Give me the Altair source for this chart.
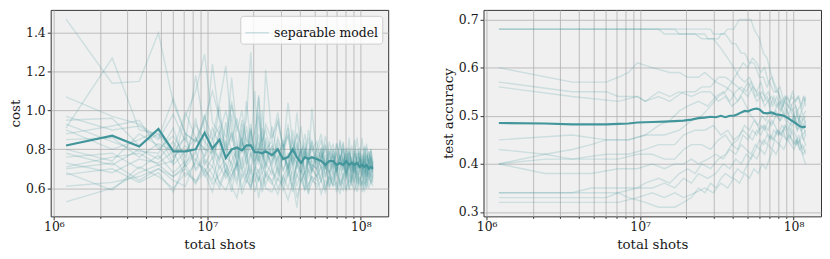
import altair as alt
import pandas as pd

SHOTS_PER_STEP = 1_200_000
TEAL = "#42969b"
FONT = "DejaVu Serif"

# ---------------- axis ticks ----------------
x_ticks = [1e6, 2e6, 3e6, 4e6, 5e6, 6e6, 7e6, 8e6, 9e6,
           1e7, 2e7, 3e7, 4e7, 5e7, 6e7, 7e7, 8e7, 9e7, 1e8]
x_major = [1e6, 1e7, 1e8]
x_major_labels = ["10⁶", "10⁷", "10⁸"]
cost_ticks = [0.6, 0.8, 1.0, 1.2, 1.4]
acc_ticks = [0.3, 0.4, 0.5, 0.6, 0.7]

# ---------------- cost panel (values x100) ----------------
cost_steps = [1, 2, 3, 4, 5, 6, 7, 8, 9, 10,
              11, 12, 13, 14, 15, 16, 17, 18, 19, 20,
              22, 24, 26, 28, 30, 32, 34, 36, 38, 40,
              43, 46, 49, 52, 55, 58, 61, 64, 67, 70,
              73, 76, 79, 82, 85, 88, 91, 94, 97, 100]

cost_runs_x100 = [
    [147,114,115,140,104,88,84,97,86,104, 123,90,80,95,85,82,78,88,76,80, 84,72,79,70,76,73,80,68,75,71, 77,70,74,68,80,72,69,75,66,78, 71,73,67,76,70,74,68,79,72,71],
    [91,127,90,88,80,99,86,80,78,85, 75,98,72,83,77,90,74,81,70,86, 75,82,69,78,73,84,67,76,79,72, 70,81,66,74,77,69,85,72,68,76, 63,79,71,74,66,82,70,75,69,73],
    [107,97,93,86,106,88,84,95,110,96, 86,103,92,84,96,130,88,107,82,93, 85,99,80,91,78,88,83,76,90,79, 84,74,87,77,70,83,75,80,72,86, 69,78,74,81,67,77,83,70,76,72],
    [97,90,92,85,98,84,118,90,85,92, 80,88,76,84,79,91,73,80,86,75, 82,70,77,88,72,79,74,81,68,76, 73,79,70,84,75,68,77,72,80,66, 74,70,78,73,69,81,71,65,75,73],
    [95,96,82,88,73,97,110,129,94,88, 100,84,96,78,105,82,90,99,77,121, 86,94,80,104,83,77,92,75,86,73, 80,88,72,79,69,83,76,70,74,79, 72,68,80,75,71,77,66,73,79,70],
    [93,84,79,78,91,72,85,80,124,95, 81,117,89,100,83,93,78,108,84,90, 76,96,81,87,74,99,78,83,72,101, 77,71,82,74,80,68,75,84,70,77, 73,85,69,76,72,67,78,74,80,70],
    [90,80,85,90,76,82,74,88,80,75, 84,70,79,86,72,90,77,74,83,71, 79,74,85,70,81,76,68,79,73,85, 74,80,70,77,83,72,76,69,81,74, 70,78,86,71,75,68,77,73,80,74],
    [88,92,95,80,87,76,93,84,79,102, 76,89,71,93,80,84,110,76,91,79, 73,86,78,93,70,82,76,88,74,69, 80,75,83,71,78,66,84,73,77,70, 82,68,75,79,65,74,81,70,76,67],
    [85,86,76,83,79,86,70,77,91,82, 68,80,75,86,72,78,69,84,77,73, 81,67,76,72,85,70,79,64,75,82, 71,77,65,80,73,69,77,62,74,79, 68,72,66,78,70,75,63,71,77,69],
    [80,74,88,82,72,79,86,76,85,73, 94,78,69,90,76,83,72,97,81,70, 92,75,83,66,78,88,71,80,74,68, 76,85,70,74,67,79,72,83,68,75, 64,80,71,74,86,69,77,72,66,74],
    [78,72,80,75,84,71,78,98,75,88, 79,105,83,70,92,77,82,74,100,79, 71,84,77,68,90,73,80,70,77,84, 69,75,80,67,73,78,71,76,64,81, 73,69,76,70,78,65,72,79,74,68],
    [76,78,70,77,68,74,96,72,80,70, 76,73,64,84,78,67,89,72,79,66, 74,80,69,76,64,73,81,67,75,71, 66,78,73,62,77,70,74,80,67,71, 76,63,73,69,77,71,66,75,70,72],
    [73,68,75,73,79,66,73,70,64,78, 72,66,74,69,77,63,70,76,68,73, 67,76,63,71,78,66,72,60,74,69, 75,63,71,68,74,60,70,77,65,72, 68,74,62,70,67,76,64,71,68,70],
    [71,76,78,72,74,88,69,75,71,90, 66,74,80,70,65,78,72,68,75,84, 69,64,77,71,62,73,68,80,65,72, 70,64,77,68,61,73,66,71,78,63, 69,74,65,70,73,62,71,67,74,66],
    [70,73,64,70,66,72,63,68,76,62, 70,58,74,65,71,60,69,64,72,66, 62,70,59,67,73,61,69,65,57,70, 66,72,60,68,64,71,62,67,73,59, 66,70,63,69,61,67,72,64,68,65],
    [68,59,71,66,60,68,64,70,62,67, 73,61,55,68,63,70,58,66,61,69, 63,57,66,60,70,55,64,68,58,63, 67,57,64,61,69,58,65,62,59,67, 63,70,60,66,58,64,61,68,62,66],
    [67,70,63,68,58,73,79,66,71,63, 59,67,72,57,64,61,68,55,66,60, 58,65,61,54,63,50,67,59,62,66, 60,64,58,66,61,63,57,68,60,64, 62,59,66,61,63,58,65,60,64,61],
    [61,63,66,70,64,61,75,68,58,72, 65,70,62,76,66,59,71,64,68,62, 70,60,66,72,58,67,63,69,61,66, 64,71,59,66,62,68,61,65,70,60, 67,63,58,66,62,69,60,64,67,63],
    [53,60,68,72,66,70,62,74,67,60, 69,64,73,60,67,72,63,70,58,67, 64,71,62,68,60,73,65,59,70,64, 62,67,73,60,66,70,63,59,67,72, 61,65,69,62,68,60,66,71,63,67],
]

cost_mean_x100 = [82, 87, 81.5, 90.5, 79, 79, 80, 88.5, 80.5, 85,
                  75.5, 80, 81, 79.5, 82, 82, 78.5, 78.5, 78, 79,
                  77, 80, 75, 76, 80, 76, 73, 76, 75, 76,
                  75, 74, 72, 74, 74, 72, 73, 72, 74, 72,
                  73, 72, 73, 71, 72, 71, 72, 70, 71, 70]

# ---------------- accuracy panel: (step, accuracy x100) vertices ----------------
acc_runs = [
    [(1,68),(14,68),(15,67),(22,67),(23,66),(27,66),(28,67),(30,67),(33,65),(35,65),(38,63),(40,63),(43,61),(46,61),(50,58),(53,58),(56,56),(58,57),(62,55),(66,55),(70,53),(73,54),(77,52),(82,51),(86,52),(90,49),(94,47),(97,48),(100,46)],
    [(1,68),(24,68),(25,67),(29,67),(31,68),(34,68),(37,70),(44,70),(46,68),(50,66),(53,63),(56,62),(59,59),(62,57),(66,55),(70,52),(74,54),(78,53),(82,55),(86,53),(90,54),(94,52),(97,54),(100,52)],
    [(1,68),(11,68),(12,67),(19,67),(21,66),(25,66),(28,64),(31,62),(34,60),(37,58),(40,57),(43,58),(46,56),(49,54),(52,55),(56,53),(60,54),(64,52),(68,53),(72,50),(76,51),(80,49),(84,50),(88,48),(92,50),(96,49),(100,50)],
    [(1,60),(3,57),(5,57),(6,58),(7,59),(8,61),(10,60),(13,59),(15,59),(17,58),(20,58),(22,59),(26,57),(30,56),(33,55),(36,53),(38,54),(41,52),(44,50),(47,49),(50,47),(53,48),(57,46),(61,45),(65,47),(69,46),(73,48),(77,47),(81,49),(85,50),(89,48),(93,47),(97,45),(100,44)],
    [(1,57),(3,55),(5,55),(6,54),(8,54),(9,53),(11,54),(13,53),(16,55),(19,55),(21,56),(24,56),(27,58),(30,58),(33,57),(36,59),(39,61),(42,60),(45,62),(48,61),(51,59),(54,60),(57,57),(60,58),(64,55),(68,56),(72,53),(76,54),(80,52),(84,53),(88,51),(92,52),(96,50),(100,51)],
    [(1,56),(3,54),(6,53),(8,54),(9,53),(11,55),(13,54),(15,55),(18,54),(21,55),(24,55),(27,53),(30,54),(33,52),(36,53),(39,55),(42,54),(45,56),(48,55),(51,57),(54,54),(57,55),(61,52),(65,54),(69,51),(73,53),(77,50),(81,52),(85,49),(89,51),(93,48),(97,50),(100,48)],
    [(1,45),(3,46),(5,45),(7,45),(9,46),(12,46),(15,47),(18,49),(21,50),(24,52),(27,54),(30,55),(33,57),(36,56),(39,55),(42,57),(45,55),(48,53),(51,54),(54,52),(57,53),(60,50),(64,51),(68,49),(72,50),(76,48),(80,47),(84,49),(88,47),(92,48),(96,46),(100,47)],
    [(1,43),(2,42),(3,41),(5,42),(7,42),(9,43),(11,44),(14,44),(16,46),(19,47),(22,47),(25,48),(28,46),(31,47),(34,45),(37,46),(40,48),(43,47),(46,49),(49,48),(52,50),(55,49),(58,51),(61,50),(65,52),(69,51),(73,53),(77,52),(81,54),(85,53),(89,54),(93,52),(97,54),(100,53)],
    [(1,40),(2,42),(3,43),(4,44),(5,45),(7,45),(9,46),(11,48),(13,49),(15,51),(17,52),(20,53),(23,52),(26,54),(29,55),(32,53),(35,55),(38,56),(41,55),(44,57),(47,54),(50,55),(53,53),(56,54),(59,52),(62,54),(66,52),(70,53),(74,51),(78,52),(82,50),(86,51),(90,49),(94,51),(97,52),(100,54)],
    [(1,40),(2,41),(6,41),(8,42),(10,42),(12,41),(14,41),(16,43),(18,44),(21,44),(24,43),(27,45),(30,46),(33,44),(36,45),(39,47),(42,46),(45,45),(48,47),(51,46),(54,48),(57,47),(60,49),(63,48),(67,46),(71,47),(75,45),(79,46),(83,44),(87,45),(91,43),(95,44),(100,42)],
    [(1,40),(2,38),(4,38),(6,39),(8,39),(10,40),(12,39),(14,40),(16,40),(18,41),(20,40),(23,41),(26,42),(29,41),(32,43),(35,42),(38,44),(41,43),(44,42),(47,44),(50,43),(53,45),(56,44),(59,46),(62,45),(66,47),(70,46),(74,48),(78,46),(82,45),(86,44),(90,46),(94,43),(97,41),(100,40)],
    [(1,34),(3,34),(4,35),(8,35),(9,36),(11,37),(13,36),(15,38),(17,39),(19,38),(21,40),(24,39),(27,41),(30,42),(33,44),(36,43),(39,46),(42,45),(45,47),(48,46),(51,48),(54,47),(57,49),(60,48),(64,50),(68,49),(72,51),(76,49),(80,48),(84,50),(88,47),(92,49),(96,48),(100,49)],
    [(1,34),(6,34),(7,33),(9,32),(11,31),(14,31),(16,32),(18,33),(20,35),(22,34),(24,36),(26,35),(28,37),(30,38),(33,37),(36,39),(39,38),(42,40),(45,42),(48,41),(51,43),(54,42),(57,44),(60,43),(63,45),(67,44),(71,46),(75,45),(79,47),(83,46),(87,44),(91,45),(95,43),(100,44)],
    [(1,33),(5,33),(6,34),(8,35),(10,35),(12,36),(14,35),(16,37),(18,36),(20,38),(23,37),(26,38),(29,40),(32,39),(35,41),(38,40),(41,42),(44,41),(47,43),(50,45),(53,44),(56,46),(59,45),(62,47),(66,46),(70,48),(74,47),(78,45),(82,47),(86,46),(90,44),(94,46),(97,45),(100,46)],
    [(1,32),(6,32),(8,33),(10,34),(12,33),(14,34),(16,33),(19,34),(22,35),(25,34),(28,36),(31,35),(34,37),(37,36),(40,38),(43,37),(46,39),(49,38),(52,40),(55,39),(58,41),(61,43),(64,42),(68,44),(72,43),(76,45),(80,44),(84,43),(88,45),(92,43),(96,42),(100,43)],
]

acc_mean_steps = [1, 2, 3, 4, 5, 6, 7, 8, 10, 12, 14, 16, 18, 20, 22, 24, 26, 28, 30, 32, 34,
                  36, 38, 40, 42, 44, 46, 48, 50, 53, 56, 60, 64, 68, 72, 76, 80, 84, 88, 92, 96, 100]
acc_mean = [0.485, 0.484, 0.482, 0.482, 0.482, 0.483, 0.484, 0.486, 0.487, 0.488, 0.489,
            0.490, 0.492, 0.495, 0.496, 0.498, 0.497, 0.500, 0.497, 0.500, 0.500,
            0.503, 0.507, 0.510, 0.509, 0.512, 0.514, 0.515, 0.513, 0.506, 0.505,
            0.507, 0.503, 0.502, 0.500, 0.496, 0.491, 0.487, 0.482, 0.478, 0.476, 0.478]

# ---------------- tables ----------------
cost_df = pd.DataFrame([
    {"run": i, "shots": k * SHOTS_PER_STEP, "cost": v / 100, "series": "separable model"}
    for i, run in enumerate(cost_runs_x100) for k, v in zip(cost_steps, run)
])
cost_mean_df = pd.DataFrame({"shots": [k * SHOTS_PER_STEP for k in cost_steps],
                             "cost": [v / 100 for v in cost_mean_x100]})
acc_df = pd.DataFrame([
    {"run": i, "shots": k * SHOTS_PER_STEP, "acc": v / 100}
    for i, run in enumerate(acc_runs) for k, v in run
])
acc_mean_df = pd.DataFrame({"shots": [k * SHOTS_PER_STEP for k in acc_mean_steps],
                            "acc": acc_mean})

major_test = " || ".join(f"datum.value == {int(v)}" for v in x_major)
label_expr = " : ".join(f"datum.value == {int(v)} ? '{lab}'" for v, lab in zip(x_major, x_major_labels)) + " : ''"


def x_enc():
    return alt.X(
        "shots:Q",
        scale=alt.Scale(type="log", domain=[953000, 1.51e8], nice=False),
        axis=alt.Axis(values=x_ticks, labelExpr=label_expr, title="total shots",
                      tickSize={"condition": {"test": major_test, "value": 3.5}, "value": 2},
                      labelPadding=1, titlePadding=4),
    )


PW, PH = 340, 208

cost_runs_layer = alt.Chart(cost_df).mark_line(strokeWidth=1.4, opacity=0.2).encode(
    x=x_enc(),
    y=alt.Y("cost:Q", scale=alt.Scale(domain=[0.455, 1.518], nice=False, zero=False),
            axis=alt.Axis(values=cost_ticks, format=".1f", title="cost", tickSize=3.5,
                          titlePadding=3)),
    detail="run:N",
    color=alt.Color("series:N", scale=alt.Scale(range=[TEAL]),
                    legend=alt.Legend(title=None, orient="top-right", offset=6,
                                      fillColor="rgba(255,255,255,0.8)", strokeColor="#cccccc",
                                      cornerRadius=3, padding=4, labelFont=FONT, labelFontSize=12.5,
                                      labelColor="#111111", symbolType="stroke",
                                      symbolStrokeWidth=1.5, symbolOpacity=0.25, symbolSize=560)),
)
cost_mean_layer = alt.Chart(cost_mean_df).mark_line(strokeWidth=2.2, color=TEAL).encode(
    x=x_enc(), y="cost:Q")
left = alt.layer(cost_runs_layer, cost_mean_layer).properties(width=PW, height=PH)

acc_runs_layer = alt.Chart(acc_df).mark_line(strokeWidth=1.4, opacity=0.2, color=TEAL).encode(
    x=x_enc(),
    y=alt.Y("acc:Q", scale=alt.Scale(domain=[0.291, 0.72], nice=False, zero=False),
            axis=alt.Axis(values=acc_ticks, format=".1f", title="test accuracy", tickSize=3.5,
                          titlePadding=3)),
    detail="run:N",
)
acc_mean_layer = alt.Chart(acc_mean_df).mark_line(strokeWidth=2.2, color=TEAL).encode(
    x=x_enc(), y="acc:Q")
right = alt.layer(acc_runs_layer, acc_mean_layer).properties(width=PW, height=PH)

chart = (
    alt.hconcat(left, right, spacing=52)
    .resolve_scale(color="independent")
    .resolve_legend(color="independent")
    .properties(padding={"left": 0, "top": 0, "right": 0, "bottom": 0})
    .configure_view(fill="#f0f0f0", stroke="#333333", strokeWidth=1)
    .configure_axis(labelFont=FONT, labelFontSize=12.5, labelColor="#1a1a1a",
                    titleFont=FONT, titleFontSize=13.5, titleFontWeight="normal",
                    titleColor="#1a1a1a", tickColor="#333333", tickWidth=1,
                    domain=False, grid=True, gridColor="#b0b0b0", gridWidth=0.8)
)

chart.save("out.html", embed_options={"renderer": "svg", "actions": False})
